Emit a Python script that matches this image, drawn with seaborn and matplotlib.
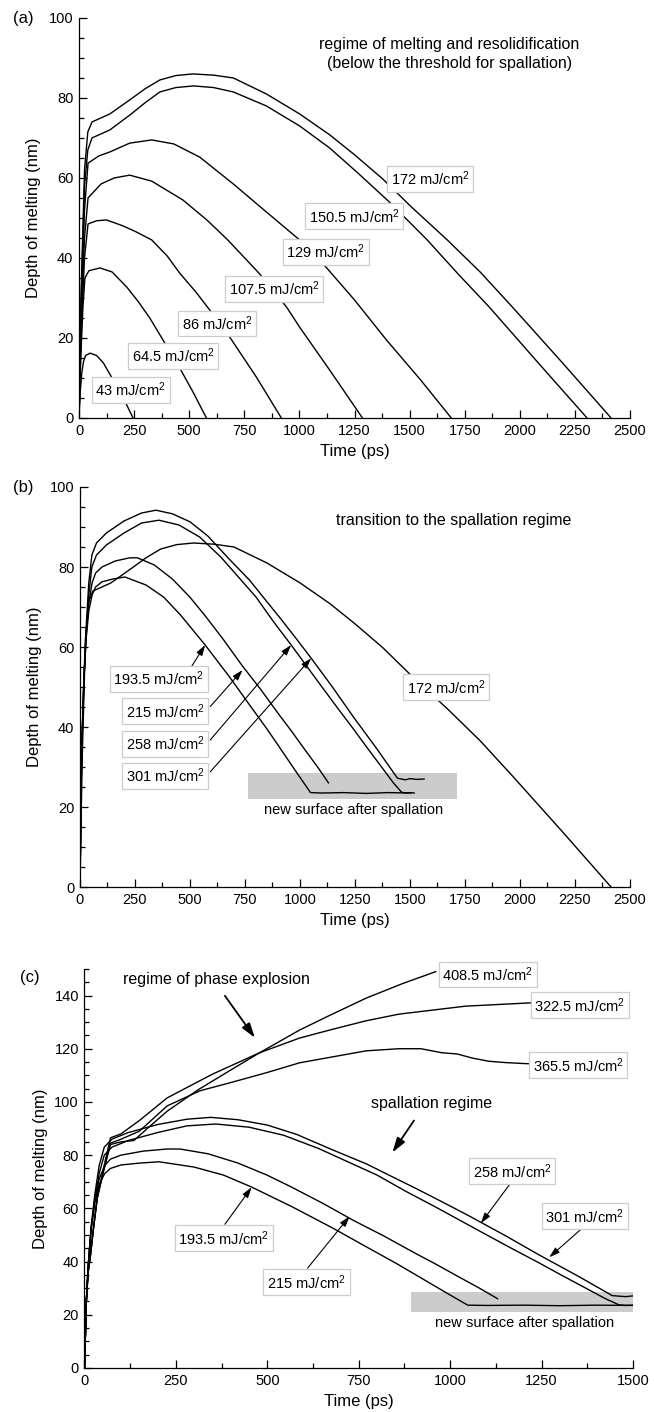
import matplotlib
matplotlib.use("Agg")
import matplotlib.pyplot as plt
from matplotlib.patches import Rectangle
from matplotlib.ticker import MultipleLocator
import seaborn as sns

# depth of melting (nm) vs time (ps)

# (a) below the spallation threshold
t_43 = [0, 5, 12, 20, 30, 50, 80, 110, 150, 180, 210, 245]
d_43 = [0, 6, 11, 14, 15.6, 16.2, 15.6, 13.8, 10, 7, 4, 0]

t_64 = [0, 8, 18, 27, 45, 95, 150, 217, 270, 321, 381, 457, 520, 578]
d_64 = [0, 15, 28, 35, 36.8, 37.5, 36.5, 32.7, 29, 25, 19.5, 12.5, 6.2, 0]

t_86 = [0, 10, 25, 41, 80, 125, 200, 260, 330, 400, 457, 530, 593, 684, 805, 918]
d_86 = [0, 22, 40, 48.5, 49.3, 49.5, 48, 46.5, 44.5, 40.5, 36.2, 31.5, 27, 20.2, 10.2, 0]

t_107 = [0, 10, 25, 41, 100, 160, 230, 330, 471, 580, 675, 820, 942, 1001, 1137, 1286]
d_107 = [0, 25, 45, 55, 58.5, 60, 60.7, 59.2, 54.5, 49.5, 44.5, 36, 27.7, 22.7, 12, 0]

t_129 = [0, 10, 25, 41, 90, 140, 230, 330, 430, 548, 700, 850, 1001, 1105, 1250, 1395, 1550, 1689]
d_129 = [0, 28, 52, 63.7, 65.5, 66.5, 68.7, 69.5, 68.5, 65.2, 58.5, 51.5, 44.5, 38.7, 29.5, 19.5, 9.5, 0]

t_150 = [0, 10, 25, 40, 59, 140, 230, 300, 367, 440, 520, 610, 700, 850, 1001, 1137, 1270, 1408, 1580,
         1720, 1861, 2080, 2305]
d_150 = [0, 30, 58, 67, 70, 72, 75.7, 78.8, 81.5, 82.6, 83, 82.6, 81.5, 78, 73, 67.5, 61, 54, 44.5,
         36, 27.75, 14, 0]

t_172 = [0, 10, 25, 40, 59, 140, 230, 300, 367, 440, 516, 610, 700, 850, 1001, 1137, 1250, 1377, 1511,
         1671, 1820, 1966, 2190, 2414]
d_172 = [0, 32, 62, 71.5, 74, 76, 79.5, 82.3, 84.5, 85.6, 86, 85.7, 85, 81, 76, 70.8, 65.8, 59.8, 52.6,
         44.5, 36.5, 27.75, 14, 0]

# (b), (c) spallation regime
t_193 = [0, 5, 10, 18, 28, 40, 55, 71, 100, 150, 204, 300, 380, 457, 569, 680, 771, 850, 906, 980, 1048,
         1100, 1200, 1300, 1400, 1505]
d_193 = [0, 25, 38, 52, 62, 69, 73, 75, 76.3, 77, 77.5, 75.5, 72.5, 68, 60.5, 52.5, 45.5, 39.5, 35, 29,
         23.6, 23.5, 23.6, 23.4, 23.6, 23.5]

t_215 = [0, 5, 10, 18, 28, 40, 55, 71, 100, 160, 226, 261, 338, 420, 499, 566, 650, 735, 820, 906, 961,
         1020, 1080, 1130]
d_215 = [0, 25, 38, 52, 63, 71, 76, 78.5, 80, 81.5, 82.3, 82.3, 80.5, 77, 72.5, 68, 62, 55.5, 49.5, 43,
         39, 34.5, 30, 26]

t_258 = [0, 5, 10, 18, 28, 40, 54, 75, 120, 200, 280, 359, 450, 544, 640, 720, 800, 880, 960, 1040, 1100,
         1170, 1243, 1300, 1360, 1425, 1462, 1480, 1500, 1520]
d_258 = [0, 25, 38, 52, 63, 73, 80, 83, 85.5, 88.5, 91, 91.7, 90.5, 87.5, 82.5, 77.5, 72.5, 66.3, 60.5,
         54.5, 50, 44.8, 39.5, 35.2, 30.8, 26, 23.7, 23.5, 23.6, 23.5]

t_301 = [0, 5, 10, 18, 28, 40, 54, 75, 120, 200, 280, 345, 420, 500, 580, 678, 771, 850, 906, 980, 1051,
         1150, 1243, 1350, 1443, 1460, 1480, 1500, 1530, 1565]
d_301 = [0, 25, 38, 53, 65, 76, 83, 86, 88.5, 91.5, 93.5, 94.2, 93.3, 91.3, 87.8, 82, 76.7, 71.3, 67.5,
         62.3, 57.2, 49.8, 42.5, 34.5, 27.2, 27, 26.8, 27.1, 26.9, 27]

# (c) phase explosion regime
t_322 = [0, 5, 10, 16, 25, 35, 52, 71, 100, 150, 226, 316, 351, 479, 588, 670, 770, 860, 1042, 1214, 1240]
d_322 = [0, 25, 36, 42, 53, 64, 75, 86.5, 88, 93, 101.5, 108, 110.5, 118.5, 124, 127, 130.5, 133, 136,
         137.2, 137.3]

t_365 = [0, 5, 10, 16, 25, 35, 52, 71, 100, 150, 226, 316, 406, 498, 588, 770, 860, 920, 977, 1020, 1060,
         1105, 1150, 1206, 1230]
d_365 = [0, 25, 36, 42, 53, 64, 74, 84.5, 86, 89, 98.5, 104.2, 107.5, 111, 114.7, 119.2, 120, 120, 118.5,
         118, 116.5, 115.3, 114.8, 114.4, 114.3]

t_408 = [0, 5, 10, 16, 25, 35, 52, 71, 100, 135, 180, 226, 310, 400, 479, 588, 670, 770, 870, 961]
d_408 = [0, 25, 36, 42, 53, 64, 74, 84, 85, 85.5, 91, 96.5, 104.5, 112, 118.5, 127, 132.5, 139, 144.5, 149]

sns.set_style("ticks")
plt.rcParams["font.family"] = ["Liberation Sans", "DejaVu Sans"]
plt.rcParams["mathtext.default"] = "regular"
for key in ["text.color", "axes.labelcolor", "xtick.color", "ytick.color", "axes.edgecolor"]:
    plt.rcParams[key] = "black"

fig = plt.figure(figsize=(6.54, 14.12), dpi=100)
ax_a = fig.add_axes([0.1208, 0.7040, 0.8425, 0.2833])
ax_b = fig.add_axes([0.1223, 0.3718, 0.8410, 0.2833])
ax_c = fig.add_axes([0.1292, 0.0312, 0.8387, 0.2826])

box = dict(boxstyle="square,pad=0.25", fc="white", ec="#cccccc", lw=0.9)
thin_arrow = dict(arrowstyle="-|>,head_length=0.7,head_width=0.22", color="black", lw=0.8,
                  mutation_scale=9, shrinkA=0, shrinkB=0)


def curve(ax, t, d):
    sns.lineplot(x=t, y=d, ax=ax, color="black", lw=1.0, estimator=None, sort=False, zorder=3)


def tag(ax, t, d, s):
    ax.text(t, d, s + " mJ/cm$^2$", ha="center", va="center", fontsize=10.5, bbox=box, zorder=6)


def arrow(ax, start, tip, props=thin_arrow):
    ax.annotate("", xy=tip, xytext=start, arrowprops=props, zorder=5)


def style(ax, xmax, ymax):
    ax.set_xlim(0, xmax)
    ax.set_ylim(0, ymax)
    ax.xaxis.set_major_locator(MultipleLocator(250))
    ax.xaxis.set_minor_locator(MultipleLocator(125))
    ax.yaxis.set_major_locator(MultipleLocator(20))
    ax.yaxis.set_minor_locator(MultipleLocator(5))
    sns.despine(ax=ax)
    for sp in ax.spines.values():
        sp.set_linewidth(0.9)
    ax.tick_params(which="both", direction="in", labelsize=10.5, width=0.9, pad=4)
    ax.tick_params(which="major", length=6)
    ax.tick_params(which="minor", length=3.5)
    ax.set_xlabel("Time (ps)", fontsize=12)
    ax.set_ylabel("Depth of melting (nm)", fontsize=12)
    ax.xaxis.set_label_coords(0.5, -0.066)
    ax.yaxis.set_label_coords(-0.069, 0.5)


# ---- (a)
for t, d in [(t_43, d_43), (t_64, d_64), (t_86, d_86), (t_107, d_107),
             (t_129, d_129), (t_150, d_150), (t_172, d_172)]:
    curve(ax_a, t, d)
style(ax_a, 2500, 100)
tag(ax_a, 1594, 59.75, "172")
tag(ax_a, 1248, 50.4, "150.5")
tag(ax_a, 1120, 41.5, "129")
tag(ax_a, 885, 32.2, "107.5")
tag(ax_a, 627, 23.6, "86")
tag(ax_a, 428, 15.5, "64.5")
tag(ax_a, 235, 7, "43")
ax_a.text(1680, 91, "regime of melting and resolidification\n(below the threshold for spallation)",
          ha="center", va="center", fontsize=11.5, linespacing=1.35)
fig.text(0.035, 0.987, "(a)", ha="center", va="center", fontsize=12)

# ---- (b)
ax_b.add_patch(Rectangle((762, 22), 953, 6.5, fc="#cccccc", ec="none", zorder=1))
for t, d in [(t_172, d_172), (t_193, d_193), (t_215, d_215), (t_258, d_258), (t_301, d_301)]:
    curve(ax_b, t, d)
style(ax_b, 2500, 100)
tag(ax_b, 1665, 49.9, "172")
tag(ax_b, 358, 52.1, "193.5")
tag(ax_b, 388, 43.9, "215")
tag(ax_b, 388, 35.75, "258")
tag(ax_b, 388, 27.75, "301")
arrow(ax_b, (507, 55.1), (569, 60.5))
arrow(ax_b, (592, 45.1), (739, 54.25))
arrow(ax_b, (592, 36.75), (960, 60.5))
arrow(ax_b, (592, 28.8), (1051, 57.2))
ax_b.text(1697, 91.75, "transition to the spallation regime", ha="center", va="center", fontsize=11.5)
ax_b.text(1243, 19.2, "new surface after spallation", ha="center", va="center", fontsize=10.5)
fig.text(0.035, 0.655, "(b)", ha="center", va="center", fontsize=12)

# ---- (c)
ax_c.add_patch(Rectangle((894, 21), 606, 7.5, fc="#cccccc", ec="none", zorder=1))
for t, d in [(t_193, d_193), (t_215, d_215), (t_258, d_258), (t_301, d_301),
             (t_322, d_322), (t_365, d_365), (t_408, d_408)]:
    curve(ax_c, t, d)
style(ax_c, 1500, 150)
ax_c.yaxis.set_label_coords(-0.067, 0.5)
tag(ax_c, 1103, 147.9, "408.5")
tag(ax_c, 1355, 136.3, "322.5")
tag(ax_c, 1350, 113.8, "365.5")
tag(ax_c, 1169, 73.9, "258")
tag(ax_c, 1368, 57, "301")
tag(ax_c, 381, 48.7, "193.5")
tag(ax_c, 607, 32.2, "215")
arrow(ax_c, (384, 54), (457, 67.9))
arrow(ax_c, (610, 37.5), (725, 57))
arrow(ax_c, (1167, 69.8), (1084, 54.4))
arrow(ax_c, (1364, 52.9), (1271, 41.6))
bold_arrow = dict(arrowstyle="-|>,head_length=0.8,head_width=0.25", color="black", lw=1.3,
                  mutation_scale=11, shrinkA=0, shrinkB=0)
ax_c.text(362, 146, "regime of phase explosion", ha="center", va="center", fontsize=11.5)
arrow(ax_c, (384, 139.9), (466, 124.1), bold_arrow)
ax_c.text(950, 99.3, "spallation regime", ha="center", va="center", fontsize=11.5)
arrow(ax_c, (901, 93), (842, 81), bold_arrow)
ax_c.text(1203, 16.9, "new surface after spallation", ha="center", va="center", fontsize=10.5)
fig.text(0.046, 0.308, "(c)", ha="center", va="center", fontsize=12)

fig.savefig("out.png", dpi=100)
